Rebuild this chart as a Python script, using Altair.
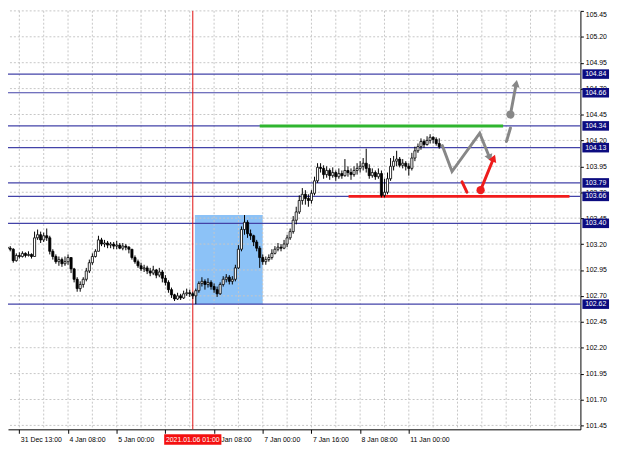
import altair as alt
import pandas as pd

FONT = "Liberation Sans"

# ---------------- data (H1 candles, bar index 2..144) ----------------
first_bar = 2
open_first = 103.17
close = [
    103.16, 103.15, 103.04, 103.09, 103.08, 103.11, 103.09, 103.10, 103.08, 103.26,
    103.29, 103.24, 103.28, 103.26, 103.13, 103.08, 103.03, 103.05, 103.01, 103.03,
    103.07, 102.96, 102.86, 102.77, 102.81, 102.86, 102.94, 103.02, 103.08, 103.13,
    103.24, 103.20, 103.21, 103.19, 103.20, 103.18, 103.19, 103.16, 103.18, 103.17,
    103.15, 103.07, 103.03, 102.99, 102.96, 102.97, 102.94, 102.92, 102.95, 102.90,
    102.93, 102.87, 102.83, 102.76, 102.71, 102.67, 102.70, 102.68, 102.72, 102.73,
    102.72, 102.70, 102.75, 102.82, 102.84, 102.81, 102.83, 102.79, 102.76, 102.72,
    102.81, 102.86, 102.88, 102.84, 102.86, 102.97, 103.15, 103.34, 103.41, 103.30,
    103.28, 103.22, 103.16, 103.07, 103.03, 103.05, 103.07, 103.11, 103.15, 103.17,
    103.16, 103.20, 103.26, 103.32, 103.43, 103.51, 103.62, 103.68, 103.64, 103.62,
    103.69, 103.81, 103.94, 103.93, 103.87, 103.91, 103.86, 103.89, 103.85, 103.88,
    103.86, 103.91, 103.89, 103.87, 103.91, 103.93, 103.95, 103.98, 103.93, 103.86,
    103.89, 103.85, 103.88, 103.67, 103.70, 103.83, 103.95, 104.00, 104.02, 103.96,
    103.98, 103.95, 103.93, 104.03, 104.10, 104.14, 104.19, 104.16, 104.20, 104.23,
    104.21, 104.17, 104.14,
]
high = [
    103.19, 103.18, 103.16, 103.11, 103.12, 103.13, 103.12, 103.13, 103.11, 103.32,
    103.34, 103.32, 103.31, 103.35, 103.28, 103.15, 103.10, 103.08, 103.07, 103.08,
    103.10, 103.07, 102.97, 102.88, 102.84, 102.88, 102.97, 103.05, 103.11, 103.15,
    103.28, 103.26, 103.24, 103.23, 103.22, 103.22, 103.23, 103.21, 103.21, 103.20,
    103.18, 103.15, 103.09, 103.05, 103.02, 103.00, 102.99, 102.97, 102.99, 102.96,
    102.97, 102.95, 102.90, 102.85, 102.78, 102.72, 102.73, 102.72, 102.75, 102.77,
    102.76, 102.74, 102.77, 102.84, 102.88, 102.86, 102.87, 102.85, 102.82, 102.79,
    102.83, 102.89, 102.91, 102.90, 102.89, 103.00, 103.19, 103.37, 103.48, 103.43,
    103.34, 103.29, 103.24, 103.18, 103.10, 103.08, 103.10, 103.15, 103.18, 103.21,
    103.20, 103.24, 103.29, 103.35, 103.47, 103.56, 103.67, 103.74, 103.72, 103.68,
    103.72, 103.85, 103.98, 103.98, 103.96, 103.95, 103.93, 103.94, 103.91, 103.93,
    103.91, 104.02, 103.95, 103.93, 103.95, 103.98, 104.00, 104.03, 104.12, 103.97,
    103.93, 103.91, 103.93, 103.91, 103.83, 103.89, 104.03, 104.05, 104.10, 104.04,
    104.02, 104.00, 103.98, 104.08, 104.14, 104.17, 104.22, 104.21, 104.24, 104.26,
    104.24, 104.23, 104.22,
]
low = [
    103.14, 103.13, 103.02, 103.03, 103.06, 103.07, 103.07, 103.08, 103.06, 103.08,
    103.24, 103.21, 103.22, 103.23, 103.10, 103.05, 103.01, 102.99, 102.98, 102.99,
    103.00, 102.92, 102.83, 102.74, 102.74, 102.78, 102.84, 102.92, 103.00, 103.07,
    103.13, 103.18, 103.17, 103.16, 103.16, 103.15, 103.15, 103.15, 103.14, 103.14,
    103.11, 103.05, 103.01, 102.97, 102.94, 102.93, 102.91, 102.89, 102.90, 102.87,
    102.88, 102.83, 102.80, 102.73, 102.68, 102.65, 102.66, 102.66, 102.67, 102.70,
    102.69, 102.67, 102.62, 102.73, 102.79, 102.76, 102.78, 102.76, 102.73, 102.69,
    102.71, 102.79, 102.83, 102.81, 102.81, 102.84, 102.96, 103.13, 103.29, 103.26,
    103.24, 103.18, 103.13, 102.97, 103.00, 103.00, 103.03, 103.05, 103.10, 103.13,
    103.13, 103.15, 103.17, 103.24, 103.30, 103.39, 103.49, 103.58, 103.58, 103.56,
    103.59, 103.67, 103.79, 103.89, 103.83, 103.84, 103.82, 103.84, 103.81, 103.83,
    103.83, 103.85, 103.85, 103.82, 103.85, 103.87, 103.89, 103.91, 103.89, 103.83,
    103.84, 103.82, 103.83, 103.65, 103.65, 103.68, 103.81, 103.91, 103.95, 103.94,
    103.93, 103.91, 103.86, 103.91, 104.00, 104.08, 104.11, 104.13, 104.15, 104.17,
    104.17, 104.15, 104.12,
]

x_tick_pos = [6, 22, 38, 54, 70, 86, 102, 118, 134]
# the 5 Jan 16:00 label sits under the red cursor box in the reference
x_tick_labels = ["31 Dec 13:00", "4 Jan 08:00", "5 Jan 00:00", "",
                 "6 Jan 08:00", "7 Jan 00:00", "7 Jan 16:00", "8 Jan 08:00", "11 Jan 00:00"]
x_grid_pos = [6, 14, 22, 30, 38, 46, 54, 62, 70, 78, 86, 94, 102, 110, 118, 126,
              134, 142, 150, 158, 166, 174, 182]
y_tick_vals = [101.45, 101.70, 101.95, 102.20, 102.45, 102.70, 102.95, 103.20, 103.45,
               103.70, 103.95, 104.20, 104.45, 104.70, 104.95, 105.20, 105.45]

levels = [104.84, 104.66, 104.34, 104.13, 103.79, 103.66, 103.40, 102.62]

cursor_bar = 63
cursor_label = "2021.01.06 01:00"

box_i = [63.7, 86.0]
box_p = [102.62, 103.48]

green_i = [85.0, 165.0]
green_p = 104.34
red_i = [114.2, 186.8]
red_p = 103.66

zig_i = [145.0, 148.2, 157.3, 160.6]
zig_p = [104.15, 103.90, 104.27, 104.03]
gray_dash_i = [166.1, 167.4]
gray_dash_p = [104.19, 104.32]
gray_arrow_i = [167.4, 169.3]
gray_arrow_p = [104.45, 104.75]
red_dash_i = [151.5, 153.1]
red_dash_p = [103.80, 103.70]
red_arrow_i = [157.6, 161.9]
red_arrow_p = [103.72, 104.03]

# ---------------- frames ----------------
n = len(close)
opens = [open_first] + close[:-1]
candles = pd.DataFrame({
    "i": list(range(first_bar, first_bar + n)),
    "open": opens, "high": high, "low": low, "close": close,
})
candles["bull"] = candles["close"] >= candles["open"]
candles["xl"] = candles["i"] - 0.35
candles["xr"] = candles["i"] + 0.35

xscale = alt.Scale(domain=[2.27, 190.4], nice=False, zero=False)
yscale = alt.Scale(domain=[101.412, 105.45], nice=False, zero=False)

label_expr = "[" + ",".join("'%s'" % s for s in x_tick_labels) + "][round((datum.value-6)/16)]"
xaxis = alt.Axis(values=x_tick_pos, labelExpr=label_expr, title=None, grid=False,
                 orient="bottom", tickSize=4, tickColor="black", domainColor="black",
                 labelAlign="left", labelOffset=1, labelPadding=2, labelFont=FONT,
                 labelFontSize=7, labelColor="black", labelFlush=False,
                 labelOverlap=False, zindex=0)
yaxis = alt.Axis(values=y_tick_vals, format=".2f", title=None, grid=False,
                 orient="right", tickSize=3, tickColor="black", domainColor="black",
                 labelPadding=2, labelFont=FONT, labelFontSize=7, labelColor="black",
                 labelFlush=1, labelOverlap=False, zindex=0)


def X(f):
    return alt.X(f, type="quantitative", scale=xscale, axis=xaxis)


def Y(f):
    return alt.Y(f, type="quantitative", scale=yscale, axis=yaxis)


grid_col = "#c6c6c6"
hgrid = alt.Chart(pd.DataFrame({"p": y_tick_vals})).mark_rule(
    color=grid_col, strokeDash=[2, 2], strokeWidth=1).encode(y=Y("p"))
vgrid = alt.Chart(pd.DataFrame({"i": x_grid_pos})).mark_rule(
    color=grid_col, strokeDash=[2, 2], strokeWidth=1).encode(x=X("i"))

rect = alt.Chart(pd.DataFrame({"i0": [box_i[0]], "i1": [box_i[1]],
                               "p0": [box_p[0]], "p1": [box_p[1]]})).mark_rect(
    color="#8cc2f7").encode(x=X("i0"), x2=alt.X2("i1"), y=Y("p0"), y2=alt.Y2("p1"))

lev = alt.Chart(pd.DataFrame({"p": levels})).mark_rule(
    color="#4343a8", strokeWidth=1.2).encode(y=Y("p"))

green = alt.Chart(pd.DataFrame({"i0": [green_i[0]], "i1": [green_i[1]], "p": [green_p]})).mark_rule(
    color="#2fb52f", strokeWidth=3).encode(x=X("i0"), x2=alt.X2("i1"), y=Y("p"))
redl = alt.Chart(pd.DataFrame({"i0": [red_i[0]], "i1": [red_i[1]], "p": [red_p]})).mark_rule(
    color="#f21c1c", strokeWidth=3).encode(x=X("i0"), x2=alt.X2("i1"), y=Y("p"))

vline = alt.Chart(pd.DataFrame({"i": [cursor_bar]})).mark_rule(
    color="#e01010", strokeWidth=1).encode(x=X("i"))

cbase = alt.Chart(candles)
wicks = cbase.mark_rule(color="black", strokeWidth=1, clip=True).encode(
    x=X("i"), y=Y("low"), y2=alt.Y2("high"))
bodies = cbase.mark_rect(stroke="black", strokeWidth=0.8, clip=True).encode(
    x=X("xl"), x2=alt.X2("xr"), y=Y("open"), y2=alt.Y2("close"),
    fill=alt.Fill("bull:N", scale=alt.Scale(domain=[True, False], range=["white", "black"]),
                  legend=None))


def seg(ii, pp, color, width):
    df = pd.DataFrame({"i": ii, "p": pp, "k": list(range(len(ii)))})
    return alt.Chart(df).mark_line(color=color, strokeWidth=width, strokeCap="round",
                                   strokeJoin="miter").encode(
        x=X("i"), y=Y("p"), order="k:Q")


def head(i, p, angle, color, size=70):
    df = pd.DataFrame({"i": [i], "p": [p]})
    return alt.Chart(df).mark_point(shape="triangle-up", filled=True, color=color,
                                    size=size, angle=angle, opacity=1).encode(
        x=X("i"), y=Y("p"))


def dot(i, p, color, size=70):
    df = pd.DataFrame({"i": [i], "p": [p]})
    return alt.Chart(df).mark_circle(color=color, size=size, opacity=1).encode(
        x=X("i"), y=Y("p"))


gray = "#878787"
redc = "#ee1c1c"
annots = [
    seg(zig_i, zig_p, gray, 3), head(zig_i[-1], zig_p[-1], 158, gray),
    seg(gray_dash_i, gray_dash_p, gray, 3),
    seg(gray_arrow_i, gray_arrow_p, gray, 3), head(gray_arrow_i[-1], gray_arrow_p[-1], 11, gray),
    dot(gray_arrow_i[0], gray_arrow_p[0], gray),
    seg(red_dash_i, red_dash_p, redc, 3),
    seg(red_arrow_i, red_arrow_p, redc, 3), head(red_arrow_i[-1], red_arrow_p[-1], 22, redc),
    dot(red_arrow_i[0], red_arrow_p[0], redc),
]

lvl_df = pd.DataFrame({"p": levels})
lvl_box = alt.Chart(lvl_df).transform_calculate(
    lo="datum.p - 0.046", hi="datum.p + 0.046").mark_rect(color="#0c0c80").encode(
    x=alt.value(582), x2=alt.value(609), y=Y("lo"), y2=alt.Y2("hi"))
lvl_txt = alt.Chart(lvl_df).mark_text(color="white", font=FONT, fontSize=7,
                                      align="center", baseline="middle").encode(
    x=alt.value(595.5), y=Y("p"), text=alt.Text("p:Q", format=".2f"))

cur_df = pd.DataFrame({"i": [cursor_bar], "lab": [cursor_label]})
cur_box = alt.Chart(cur_df).transform_calculate(
    a="datum.i - 9.4", b="datum.i + 9.4").mark_rect(color="#f41010").encode(
    x=X("a"), x2=alt.X2("b"), y=alt.value(429), y2=alt.value(439.5))
cur_txt = alt.Chart(cur_df).mark_text(color="white", font=FONT, fontSize=7,
                                      align="center", baseline="middle").encode(
    x=X("i"), y=alt.value(434.5), text="lab:N")

chart = alt.layer(
    rect, hgrid, vgrid, lev, green, redl, vline, wicks, bodies, *annots,
    lvl_box, lvl_txt, cur_box, cur_txt,
).properties(
    width=580, height=424,
    padding={"left": 0, "top": 0, "right": 32, "bottom": 17},
    autosize=alt.AutoSizeParams(type="none"),
    background="white",
).configure_view(stroke=None).configure_axis(domainWidth=1)

chart.save("out.html", embed_options={"renderer": "svg", "actions": False})
